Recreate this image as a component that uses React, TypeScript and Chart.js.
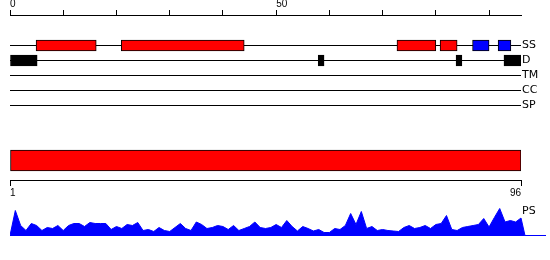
import React, { useEffect, useRef } from "react";
import { Chart, registerables } from "chart.js";

Chart.register(...registerables);

// ---------------- data ----------------
const SEQ_LENGTH = 96;
const TOP_TICKS = [0, 10, 20, 30, 40, 50, 60, 70, 80, 90];
const TOP_TICK_LABELS = ["0", "", "", "", "", "50", "", "", "", ""];
const BOTTOM_TICKS = [1, 96];
const BOTTOM_TICK_LABELS = ["1", "96"];
const TRACK_NAMES = ["SS", "D", "TM", "CC", "SP"];
const PS_NAME = "PS";
const SS_HELIX = [
  [4.9, 16.2],
  [20.9, 44],
  [72.7, 80],
  [80.8, 84],
];
const SS_STRAND = [
  [86.9, 90],
  [91.7, 94.1],
];
const D_REGIONS = [
  [0, 5.1],
  [57.9, 59],
  [83.8, 84.9],
  [92.8, 96],
];
const DOMAINS = [[0, 96]];
const PS_VALUES = [
  25, 10, 5, 12, 10, 5, 8, 7, 10, 5,
  10, 12, 12, 9, 13, 12, 12, 12, 6, 9,
  7, 11, 10, 13, 5, 6, 4, 8, 5, 4,
  8, 12, 7, 5, 13.5, 11, 7, 8, 10, 9,
  6, 10, 5, 7, 9, 13.5, 8, 7, 8, 11,
  8, 15, 9, 4.5, 9, 7, 4.5, 6, 3, 3,
  7, 6, 10, 22, 11, 24, 7, 9, 5, 6,
  5, 4.5, 4, 8, 10, 7, 8, 10, 7, 11,
  12, 20, 6, 5, 8, 9, 10, 11, 17, 8.5,
  18, 27, 13.5, 15, 13.5, 17.5,
];
const PS_END = 96.75;

// ---------------- layout (page pixels) ----------------
const W = 550;
const H = 260;
const PLOT_LEFT = 10;
const PLOT_RIGHT = 521;
const TOP_AXIS_H = 15;
const ROW_Y = [45.5, 60.5, 75.5, 90.5, 105.5];
const DOMAIN_Y = 160.5;
const SCALE_Y = 180;
const PS_LABEL_Y = 211;
const PS_TOP = 200;
const PS_HEIGHT = 36;
const PS_RIGHT = 546;
const PS_XMAX = (SEQ_LENGTH * (PS_RIGHT - PLOT_LEFT)) / (PLOT_RIGHT - PLOT_LEFT);

const LABEL_FONT = { family: "DejaVu Sans", size: 11 };
const NUM_FONT = { family: "Liberation Sans", size: 10 };

const RED = "#ff0000";
const BLUE = "#0000ff";
const BLACK = "#000000";

function zeroPad(s: any) {
  s.paddingTop = 0;
  s.paddingBottom = 0;
  s.paddingLeft = 0;
  s.paddingRight = 0;
}

function barSet(ranges: number[][], y: number, color: string, thickness: number) {
  return {
    type: "bar",
    indexAxis: "y",
    xAxisID: "x",
    yAxisID: "y",
    data: ranges.map((r) => ({ x: r, y })),
    backgroundColor: color,
    borderColor: BLACK,
    borderWidth: 1,
    borderSkipped: false,
    barThickness: thickness,
    grouped: false,
    order: 1,
  };
}

export default function App() {
  const mainRef = useRef<HTMLCanvasElement | null>(null);
  const psRef = useRef<HTMLCanvasElement | null>(null);

  useEffect(() => {
    document.body.style.margin = "0";
    const rowLabels: { value: number; label: string }[] = TRACK_NAMES.map((n, i) => ({
      value: ROW_Y[i],
      label: n,
    }));
    rowLabels.push({ value: PS_LABEL_Y, label: PS_NAME });

    const trackLines = ROW_Y.map((y) => ({
      type: "line",
      xAxisID: "x",
      yAxisID: "y",
      data: [
        { x: 0, y },
        { x: SEQ_LENGTH, y },
      ],
      borderColor: BLACK,
      borderWidth: 1,
      pointRadius: 0,
      fill: false,
      order: 10,
    }));

    const main = new Chart(mainRef.current as HTMLCanvasElement, {
      type: "line",
      data: {
        datasets: [
          ...trackLines,
          barSet(SS_HELIX, ROW_Y[0], RED, 11),
          barSet(SS_STRAND, ROW_Y[0], BLUE, 11),
          barSet(D_REGIONS, ROW_Y[1], BLACK, 11),
          barSet(DOMAINS, DOMAIN_Y, RED, 21),
        ] as any,
      },
      options: {
        animation: false,
        responsive: false,
        maintainAspectRatio: false,
        devicePixelRatio: 1,
        events: [],
        layout: { padding: { left: PLOT_LEFT, right: 0, top: 0, bottom: 0 } },
        plugins: { legend: { display: false }, tooltip: { enabled: false } },
        scales: {
          x: {
            type: "linear",
            position: "top",
            offset: false,
            min: 0,
            max: SEQ_LENGTH,
            afterBuildTicks: (s: any) => {
              s.ticks = TOP_TICKS.map((v) => ({ value: v }));
            },
            afterFit: (s: any) => {
              s.height = TOP_AXIS_H;
              zeroPad(s);
            },
            ticks: {
              autoSkip: false,
              maxRotation: 0,
              align: "start",
              padding: 0,
              font: NUM_FONT,
              color: BLACK,
              callback: (_v: any, i: number) => TOP_TICK_LABELS[i],
            },
            grid: { drawOnChartArea: false, offset: false, tickLength: 5, color: BLACK, lineWidth: 1 },
            border: { color: BLACK, width: 1 },
          },
          y: {
            type: "linear",
            position: "right",
            offset: false,
            reverse: true,
            min: TOP_AXIS_H,
            max: H,
            afterBuildTicks: (s: any) => {
              s.ticks = rowLabels.map((r) => ({ value: r.value }));
            },
            afterFit: (s: any) => {
              s.width = W - PLOT_RIGHT;
              zeroPad(s);
            },
            ticks: {
              autoSkip: false,
              padding: 1,
              font: LABEL_FONT,
              color: BLACK,
              callback: (_v: any, i: number) => rowLabels[i].label,
            },
            grid: { display: false, drawTicks: false, offset: false },
            border: { display: false },
          },
          xb: {
            type: "linear",
            axis: "x",
            position: { y: SCALE_Y },
            offset: false,
            min: BOTTOM_TICKS[0],
            max: BOTTOM_TICKS[1],
            afterBuildTicks: (s: any) => {
              s.ticks = BOTTOM_TICKS.map((v) => ({ value: v }));
            },
            afterFit: (s: any) => {
              s.height = 0;
              zeroPad(s);
            },
            ticks: {
              autoSkip: false,
              maxRotation: 0,
              align: "inner",
              padding: 2,
              font: NUM_FONT,
              color: BLACK,
              callback: (_v: any, i: number) => BOTTOM_TICK_LABELS[i],
            },
            grid: { drawOnChartArea: false, offset: false, tickLength: 5, color: BLACK, lineWidth: 1 },
            border: { color: BLACK, width: 1 },
          },
        } as any,
      },
    });

    const psData = [
      { x: 0, y: 0 },
      ...PS_VALUES.map((v, i) => ({ x: i + 1, y: v })),
      { x: PS_END, y: 0 },
      { x: PS_XMAX, y: 0 },
    ];

    const ps = new Chart(psRef.current as HTMLCanvasElement, {
      type: "line",
      data: {
        datasets: [
          {
            data: psData,
            borderColor: BLUE,
            backgroundColor: BLUE,
            borderWidth: 1,
            pointRadius: 0,
            tension: 0,
            fill: { value: -0.5 },
          } as any,
        ],
      },
      options: {
        animation: false,
        responsive: false,
        maintainAspectRatio: false,
        devicePixelRatio: 1,
        events: [],
        layout: { padding: { left: PLOT_LEFT, right: W - PS_RIGHT, top: 0, bottom: 0 } },
        plugins: { legend: { display: false }, tooltip: { enabled: false } },
        scales: {
          x: { type: "linear", display: false, min: 0, max: PS_XMAX },
          y: { type: "linear", display: false, min: -0.5, max: PS_HEIGHT - 0.5 },
        },
      },
    });

    return () => {
      main.destroy();
      ps.destroy();
    };
  }, []);

  return (
    <div style={{ position: "absolute", left: 0, top: 0, width: W, height: H, background: "#fff" }}>
      <canvas
        ref={mainRef}
        width={W}
        height={H}
        style={{ position: "absolute", left: 0, top: 0, width: W, height: H, display: "block" }}
      />
      <canvas
        ref={psRef}
        width={W}
        height={PS_HEIGHT}
        style={{ position: "absolute", left: 0, top: PS_TOP, width: W, height: PS_HEIGHT, display: "block" }}
      />
    </div>
  );
}
